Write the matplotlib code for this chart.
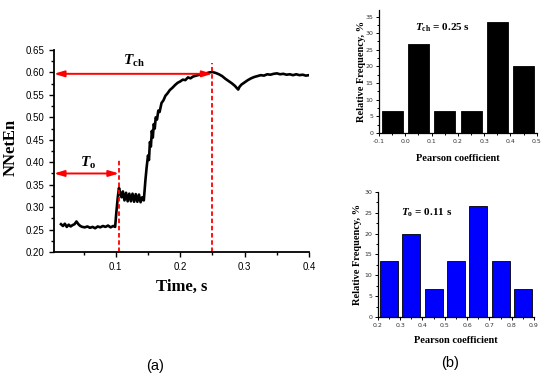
import numpy as np
import matplotlib
matplotlib.use("Agg")
import matplotlib.pyplot as plt
from matplotlib.ticker import MultipleLocator, FormatStrFormatter

plt.rcParams["mathtext.fontset"] = "custom"
plt.rcParams["mathtext.it"] = "Liberation Serif:italic:bold"
plt.rcParams["mathtext.rm"] = "Liberation Serif:bold"
plt.rcParams["mathtext.bf"] = "Liberation Serif:bold"

# NNetEn vs time
time_s = [0.015, 0.018, 0.021, 0.024, 0.027, 0.030, 0.033, 0.036, 0.039, 0.042,
          0.045, 0.048, 0.052, 0.056, 0.060, 0.064, 0.068, 0.072, 0.076, 0.080,
          0.084, 0.088, 0.092, 0.096, 0.099, 0.101, 0.103, 0.105, 0.107, 0.109,
          0.111, 0.1135, 0.116, 0.1185, 0.121, 0.1235, 0.126, 0.1285, 0.131, 0.1335,
          0.136, 0.1385, 0.141, 0.1435, 0.146, 0.148, 0.150, 0.1515, 0.153, 0.1545,
          0.156, 0.1575, 0.159, 0.1605, 0.162, 0.164, 0.166, 0.168, 0.171, 0.174,
          0.177, 0.180, 0.184, 0.188, 0.192, 0.196, 0.200, 0.204, 0.208, 0.212,
          0.216, 0.220, 0.225, 0.230, 0.235, 0.240, 0.245, 0.250, 0.255, 0.260,
          0.265, 0.270, 0.275, 0.280, 0.285, 0.288, 0.290, 0.292, 0.295, 0.300,
          0.305, 0.310, 0.315, 0.320, 0.325, 0.330, 0.335, 0.340, 0.345, 0.350,
          0.355, 0.360, 0.365, 0.370, 0.375, 0.380, 0.385, 0.390, 0.395, 0.400]
nneten = [0.262, 0.258, 0.263, 0.256, 0.261, 0.257, 0.260, 0.262, 0.268, 0.262,
          0.258, 0.256, 0.255, 0.257, 0.254, 0.256, 0.253, 0.257, 0.255, 0.258,
          0.256, 0.259, 0.255, 0.258, 0.256, 0.290, 0.320, 0.343, 0.330, 0.322,
          0.335, 0.315, 0.332, 0.313, 0.330, 0.313, 0.330, 0.312, 0.329, 0.312,
          0.328, 0.311, 0.322, 0.315, 0.360, 0.390, 0.415, 0.405, 0.445, 0.435,
          0.470, 0.455, 0.485, 0.475, 0.500, 0.495, 0.515, 0.512, 0.532, 0.538,
          0.548, 0.553, 0.561, 0.566, 0.572, 0.577, 0.580, 0.584, 0.583, 0.589,
          0.587, 0.591, 0.593, 0.595, 0.597, 0.598, 0.600, 0.601, 0.599, 0.596,
          0.592, 0.586, 0.581, 0.576, 0.570, 0.565, 0.562, 0.568, 0.573, 0.578,
          0.583, 0.587, 0.590, 0.592, 0.594, 0.593, 0.596, 0.595, 0.597, 0.598,
          0.596, 0.597, 0.595, 0.596, 0.594, 0.596, 0.594, 0.595, 0.593, 0.594]

t_o = 0.105
t_ch = 0.25

# histograms
ch_bins = [-0.05, 0.05, 0.15, 0.25, 0.35, 0.45]
ch_freq = [6.67, 26.67, 6.67, 6.67, 33.33, 20.0]
o_bins = [0.25, 0.35, 0.45, 0.55, 0.65, 0.75, 0.85]
o_freq = [13.33, 20.0, 6.67, 13.33, 26.67, 13.33, 6.67]

serif = "Liberation Serif"
sans = "Liberation Sans"

fig = plt.figure(figsize=(5.5, 3.79), dpi=100)
ax = fig.add_axes([0.098, 0.335, 0.464, 0.533])
ax.plot(time_s, nneten, color="k", lw=1.9)
ax.set_xlim(0.004, 0.4)
ax.set_ylim(0.2, 0.65)
ax.xaxis.set_major_locator(MultipleLocator(0.1))
ax.xaxis.set_minor_locator(MultipleLocator(0.05))
ax.yaxis.set_major_locator(MultipleLocator(0.05))
ax.yaxis.set_minor_locator(MultipleLocator(0.025))
ax.yaxis.set_major_formatter(FormatStrFormatter("%.2f"))
ax.xaxis.set_major_formatter(FormatStrFormatter("%.1f"))
ax.set_xticks([0.1, 0.2, 0.3, 0.4])
for s in ("top", "right"):
    ax.spines[s].set_visible(False)
for s in ("left", "bottom"):
    ax.spines[s].set_linewidth(1.3)
ax.tick_params(which="major", length=3.5, width=1, labelsize=7)
ax.tick_params(which="minor", length=2, width=1)
for lab in ax.get_xticklabels() + ax.get_yticklabels():
    lab.set_family(sans)
ax.set_ylabel("NNetEn", fontsize=12, fontweight="bold", family=serif)
ax.yaxis.set_label_coords(-0.14, 0.52)
ax.set_xlabel("Time, s", fontsize=12, fontweight="bold", family=serif)
ax.xaxis.set_label_coords(0.5, -0.135)

ax.vlines(t_o, 0.2, 0.407, colors="red", linestyles=(0, (2.5, 1.5)), lw=1.3)
ax.vlines(t_ch, 0.2, 0.62, colors="red", linestyles=(0, (2.5, 1.5)), lw=1.3)
arrow = dict(arrowstyle="<|-|>,head_length=0.6,head_width=0.18", color="red",
             lw=1.4, shrinkA=0, shrinkB=0)
ax.annotate("", xy=(t_o, 0.375), xytext=(0.004, 0.375), arrowprops=arrow)
ax.annotate("", xy=(t_ch, 0.597), xytext=(0.004, 0.597), arrowprops=arrow)
ax.text(0.057, 0.398, r"$\mathit{T}_\mathrm{o}$", fontsize=11, ha="center", va="center")
ax.text(0.128, 0.625, r"$\mathit{T}_\mathrm{ch}$", fontsize=11, ha="center", va="center")

fig.text(0.282, 0.035, "(a)", fontsize=10.5, family=sans, ha="center", va="center")


def hist_axes(rect, bins, freq, color, xlim, ylim, ylabel_x, xlabel_y, note, note_xy):
    h = fig.add_axes(rect)
    h.bar(bins, freq, width=0.08, color=color, edgecolor="black", lw=0.6)
    h.set_xlim(*xlim)
    h.set_ylim(*ylim)
    h.xaxis.set_major_locator(MultipleLocator(0.1))
    h.xaxis.set_minor_locator(MultipleLocator(0.05))
    h.yaxis.set_major_locator(MultipleLocator(5))
    h.yaxis.set_minor_locator(MultipleLocator(2.5))
    h.xaxis.set_major_formatter(FormatStrFormatter("%.1f"))
    for s in ("top", "right"):
        h.spines[s].set_visible(False)
    for s in ("left", "bottom"):
        h.spines[s].set_linewidth(0.9)
    h.tick_params(which="major", length=2.5, width=0.7, labelsize=4.5, pad=1.5,
                  labelcolor="#333333")
    h.tick_params(which="minor", length=1.5, width=0.7)
    h.set_ylabel("Relative Frequency, %", fontsize=7.5, fontweight="bold", family=serif)
    h.yaxis.set_label_coords(ylabel_x, 0.5)
    h.set_xlabel("Pearson coefficient", fontsize=7.5, fontweight="bold", family=serif)
    h.xaxis.set_label_coords(0.5, xlabel_y)
    h.text(note_xy[0], note_xy[1], note, fontsize=8, fontweight="bold", family=serif,
           ha="center", va="center")
    return h


hist_axes([0.689, 0.649, 0.287, 0.325], ch_bins, ch_freq, "black",
          (-0.1, 0.5), (0, 37), -0.08, -0.17,
          r"$\mathit{T}_\mathrm{ch}$ = 0.25 s", (0.14, 31.5))
hist_axes([0.687, 0.163, 0.284, 0.331], o_bins, o_freq, "#0000ff",
          (0.2, 0.9), (0, 30), -0.10, -0.15,
          r"$\mathit{T}_\mathrm{o}$ = 0.11 s", (0.42, 25))

fig.text(0.818, 0.042, "(b)", fontsize=10.5, family=sans, ha="center", va="center")

fig.savefig("out.png", dpi=100, facecolor="white")
